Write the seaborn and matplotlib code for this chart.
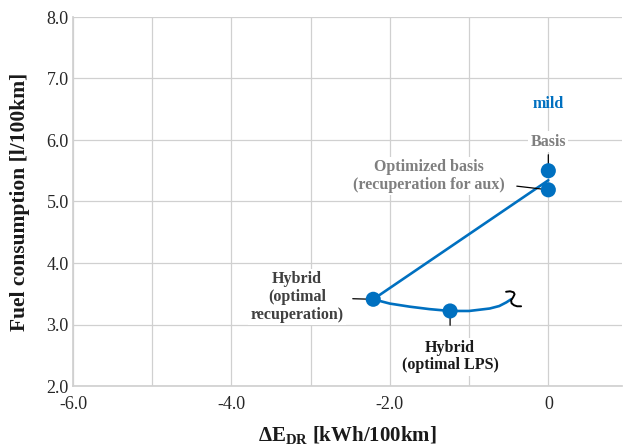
import matplotlib
matplotlib.use("Agg")
import matplotlib.pyplot as plt
import seaborn as sns
import pandas as pd

# Operating points of the mild hybrid: ΔE_DR [kWh/100km] vs. fuel [l/100km]
point_names = ["Basis", "Optimized basis", "Hybrid recuperation", "Hybrid LPS"]
point_x = [0.0, 0.0, -2.21, -1.24]
point_y = [5.50, 5.19, 3.41, 3.22]

# Path from the basis down to the optimal-recuperation hybrid
path_x = [0.0, 0.0, -2.21]
path_y = [5.50, 5.19, 3.41]

# LPS variation curve of the hybrid
curve_x = [-2.21, -2.00, -1.75, -1.50, -1.24, -1.00, -0.74, -0.62, -0.53, -0.47]
curve_y = [3.41, 3.34, 3.29, 3.25, 3.22, 3.22, 3.26, 3.30, 3.36, 3.41]

x_ticks = [-6, -4, -2, 0]
x_tick_labels = ["-6.0", "-4.0", "-2.0", "0"]
y_ticks = [2, 3, 4, 5, 6, 7, 8]
y_tick_labels = ["2.0", "3.0", "4.0", "5.0", "6.0", "7.0", "8.0"]

BLUE = "#0070C0"
GRID = "#D0D0D0"

sns.set_theme(style="whitegrid")
plt.rcParams["font.family"] = ["Liberation Serif", "DejaVu Serif"]
plt.rcParams["mathtext.fontset"] = "custom"
plt.rcParams["mathtext.rm"] = "Liberation Serif"
plt.rcParams["mathtext.bf"] = "Liberation Serif:bold"
plt.rcParams["mathtext.it"] = "Liberation Serif:italic"

fig = plt.figure(figsize=(6.23, 4.48), dpi=100)
ax = fig.add_axes([73 / 623, 1 - 386 / 448, (622 - 73) / 623, (386 - 17) / 448])

path_df = pd.DataFrame({"x": path_x, "y": path_y})
curve_df = pd.DataFrame({"x": curve_x, "y": curve_y})
pts_df = pd.DataFrame({"x": point_x, "y": point_y, "name": point_names})

sns.lineplot(data=path_df, x="x", y="y", sort=False, color=BLUE, lw=1.9, ax=ax, zorder=3)
sns.lineplot(data=curve_df, x="x", y="y", sort=False, color=BLUE, lw=1.9, ax=ax, zorder=3)
sns.scatterplot(data=pts_df, x="x", y="y", color=BLUE, s=118, edgecolor="none", ax=ax, zorder=4)

ax.set_xlim(-6, 0.93)
ax.set_ylim(2, 8)
ax.set_xticks(x_ticks)
ax.set_xticklabels(x_tick_labels)
ax.set_xticks([-5, -3, -1], minor=True)
ax.set_yticks(y_ticks)
ax.set_yticklabels(y_tick_labels)
ax.grid(True, which="both", color=GRID, lw=0.9)
ax.tick_params(axis="both", which="both", length=0, labelsize=13, colors="#262626", pad=3)
ax.tick_params(axis="x", pad=7)
for lbl in ax.get_xticklabels() + ax.get_yticklabels():
    lbl.set_color("#262626")
for side in ["top", "right"]:
    ax.spines[side].set_visible(False)
ax.spines["left"].set_color(GRID)
ax.spines["bottom"].set_color(GRID)
ax.set_facecolor("white")

ax.set_xlabel(r"$\mathbf{\Delta E_{DR}}$ [kWh/100km]", fontsize=15, fontweight="bold",
              color="#1a1a1a", labelpad=8)
ax.set_ylabel("Fuel consumption [l/100km]", fontsize=15.5, fontweight="bold",
              color="#1a1a1a", labelpad=12)

# Hand-drawn break mark at the open end of the curve (offsets in pixels)
end_disp = ax.transData.transform((curve_x[-1], curve_y[-1]))
sq_dx = [-5, -1, 2.5, 3.5, 2, 0, 0.5, 3, 6, 10]
sq_dy = [7.5, 8, 7, 5, 2, -1, -4, -6, -7, -7]
sq_fig = fig.transFigure.inverted().transform(
    [(end_disp[0] + dx, end_disp[1] + dy) for dx, dy in zip(sq_dx, sq_dy)])
fig.add_artist(plt.Line2D(sq_fig[:, 0], sq_fig[:, 1], color="black", lw=1.4,
                          solid_capstyle="round", solid_joinstyle="round", zorder=5))

box = dict(boxstyle="square,pad=0.15", fc="white", ec="none")
lead = dict(arrowstyle="-", color="black", lw=0.9, shrinkA=2, shrinkB=0)
fs = 11.5

ax.annotate("mild", xy=(point_x[0], point_y[0]), xytext=(0, 48), textcoords="offset points",
            ha="center", va="center", fontsize=fs, fontweight="bold", color=BLUE)
ax.annotate("Basis", xy=(point_x[0], point_y[0]), xytext=(0, 21), textcoords="offset points",
            ha="center", va="center", fontsize=fs, fontweight="bold", color="#7F7F7F",
            bbox=box, arrowprops=lead)
ax.annotate("Optimized basis\n(recuperation for aux)", xy=(point_x[1], point_y[1]),
            xytext=(-86, 10), textcoords="offset points", ha="center", va="center",
            fontsize=fs, fontweight="bold", color="#7F7F7F", linespacing=1.15,
            bbox=box, arrowprops=dict(lead, shrinkA=7))
ax.annotate("Hybrid\n(optimal\nrecuperation)", xy=(point_x[2], point_y[2]),
            xytext=(-55, 1.5), textcoords="offset points", ha="center", va="center",
            fontsize=fs, fontweight="bold", color="#404040", linespacing=1.15,
            bbox=box, arrowprops=dict(lead, shrinkA=5))
ax.annotate("Hybrid\n(optimal LPS)", xy=(point_x[3], point_y[3]),
            xytext=(0, -33), textcoords="offset points", ha="center", va="center",
            fontsize=fs, fontweight="bold", color="#1a1a1a", linespacing=1.1,
            bbox=box, arrowprops=dict(lead, shrinkA=9))

fig.savefig("out.png", dpi=100, facecolor="white")
